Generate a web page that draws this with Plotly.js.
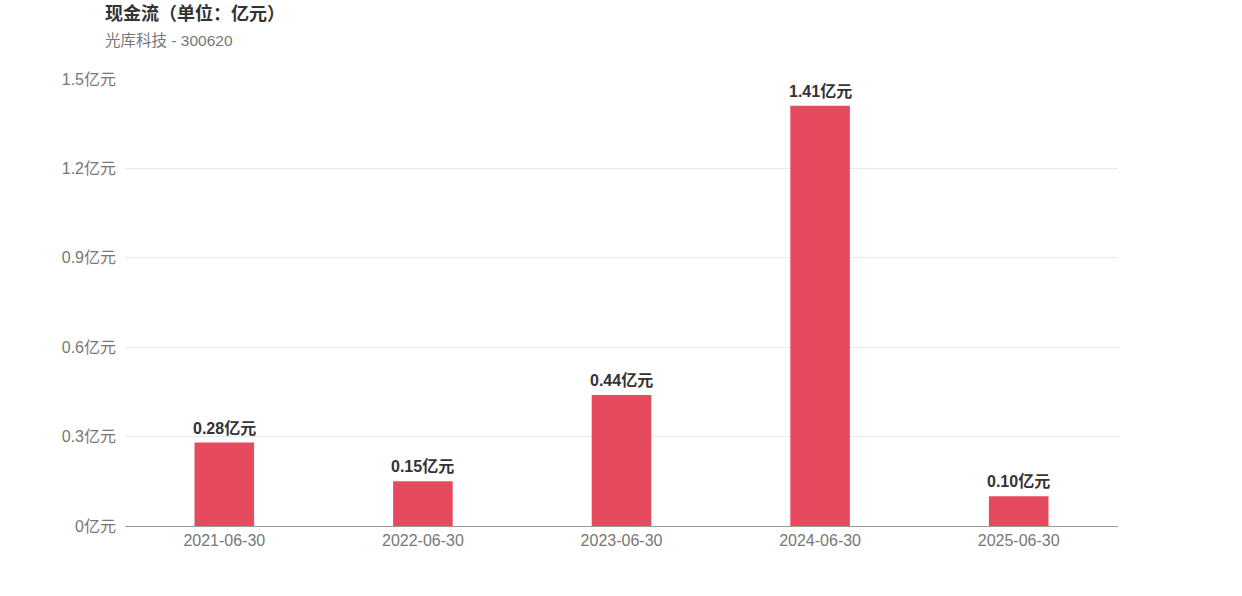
<!DOCTYPE html>
<html><head><meta charset="utf-8">
<script src="https://cdn.plot.ly/plotly-3.0.1.min.js"></script>
<style>body{margin:0;}#c{width:1242px;height:596px;}</style>
</head><body><div id="c"></div>
<script>
const categories = ["2021-06-30","2022-06-30","2023-06-30","2024-06-30","2025-06-30"];
const values = [0.28, 0.15, 0.44, 1.41, 0.10];
const tickVals = [0, 0.3, 0.6, 0.9, 1.2, 1.5];
const tickText = ["0亿元","0.3亿元","0.6亿元","0.9亿元","1.2亿元","1.5亿元"];
const titleText = "现金流（单位：亿元）";
const subtitleText = "光库科技 - 300620";

const font = "'Liberation Sans', Arial, 'Noto Sans CJK SC', sans-serif";
const labelAnns = categories.map((c, i) => ({
  x: c, y: values[i], xref: 'x', yref: 'y', text: '<b>' + values[i].toFixed(2) + '亿元</b>',
  showarrow: false, yanchor: 'bottom', yshift: 4,
  font: {family: font, size: 16, color: '#333333'}
}));
Plotly.newPlot('c', [{
  type: 'bar', x: categories, y: values,
  marker: {color: '#e54a5f'},
  hoverinfo: 'none'
}], {
  width: 1242, height: 596,
  margin: {l: 125, r: 124, t: 79, b: 70},
  paper_bgcolor: '#fff', plot_bgcolor: '#fff',
  bargap: 0.7,
  font: {family: font},
  showlegend: false,
  xaxis: {type: 'category', showgrid: false, showline: true, linecolor: '#999999', linewidth: 1,
    ticks: '', tickfont: {size: 16, color: '#777777'}, fixedrange: true},
  yaxis: {range: [0, 1.5], tickvals: tickVals, ticktext: tickText, showgrid: true, gridcolor: '#e8e8ee',
    zeroline: false, showline: false, ticks: '', ticklabelstandoff: 8, tickfont: {size: 16, color: '#777777'}, fixedrange: true},
  annotations: labelAnns.concat([
    {text: '<b>' + titleText + '</b>', xref: 'paper', yref: 'paper', x: -22/993, y: 1 + 66/447, xanchor: 'left', yanchor: 'middle',
     showarrow: false, font: {size: 18, color: '#333333', family: font}},
    {text: subtitleText, xref: 'paper', yref: 'paper', x: -22/993, y: 1 + 39/447, xanchor: 'left', yanchor: 'middle',
     showarrow: false, font: {size: 15.5, color: '#777777', family: font}}
  ])
}, {staticPlot: true});
</script></body></html>
